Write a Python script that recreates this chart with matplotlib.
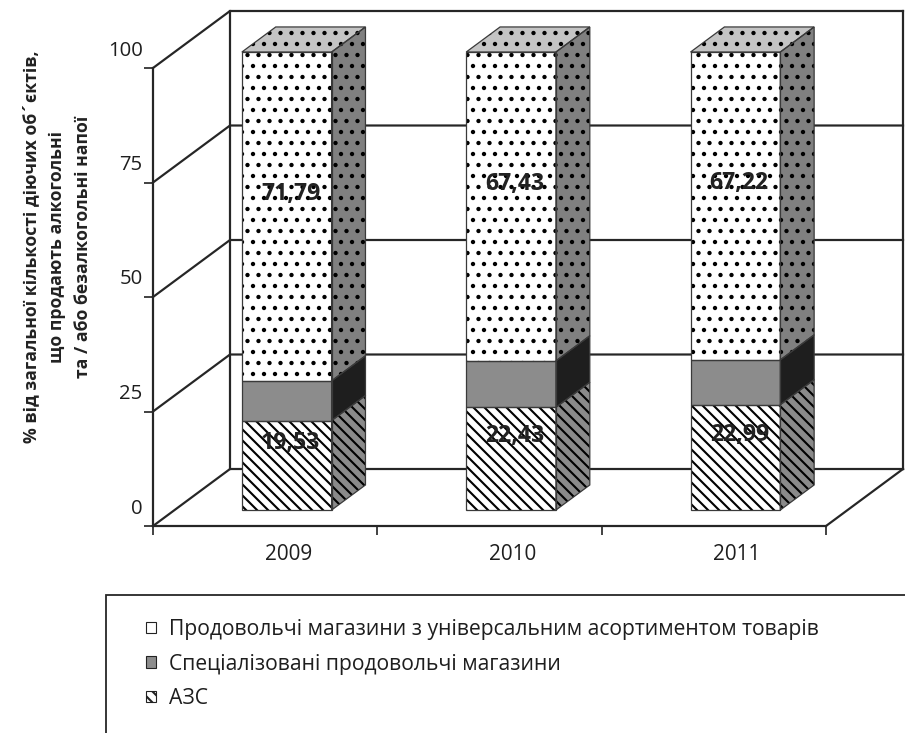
import matplotlib
matplotlib.use('Agg')
import matplotlib.pyplot as plt
from matplotlib.patches import Polygon, Patch, Rectangle
from matplotlib.transforms import ScaledTranslation

DPI = 132
W, H = 905, 733


def pt(px):
    return px * 72 / DPI


plt.rcParams['font.family'] = ['Open Sans', 'DejaVu Sans']
plt.rcParams['hatch.linewidth'] = pt(2.1)

# ---- data ----
years = ['2009', '2010', '2011']
azs = [19.53, 22.43, 22.99]
special = [8.68, 10.14, 9.79]
universal = [71.79, 67.43, 67.22]
series_names = ['Продовольчі магазини з універсальним асортиментом товарів',
                'Спеціалізовані продовольчі магазини',
                'АЗС']
yticks = [0, 25, 50, 75, 100]
ylabel = '% від загальної кількості діючих об´єктів,\nщо продають алкогольні\nта / або безалкогольні напої'

fig = plt.figure(figsize=(W / DPI, H / DPI), dpi=DPI)
ax = fig.add_axes([153 / W, 1 - 526 / H, (826 - 153) / W, (526 - 68) / H])
ax.set_xlim(0, len(years))
ax.set_ylim(0, 100)

DX = 77 / ((826 - 153) / len(years))
DY = 57 / ((526 - 68) / 100)


def P(x, y, d):
    return (x + d * DX, y + d * DY)


line_c = '#262626'
wall_kw = dict(color=line_c, lw=pt(2.2), clip_on=False, zorder=1)
n = len(years)
for v in yticks:
    ax.plot([0, DX, n + DX], [v, v + DY, v + DY], **wall_kw)
ax.plot([DX, DX], [DY, 100 + DY], **wall_kw)
ax.plot([n + DX, n + DX], [DY, 100 + DY], **wall_kw)
ax.plot([n, n + DX], [0, DY], **wall_kw)

for s in ['top', 'right']:
    ax.spines[s].set_visible(False)
for s in ['left', 'bottom']:
    ax.spines[s].set_color(line_c)
    ax.spines[s].set_linewidth(pt(2.2))

ax.set_yticks(yticks)
ax.set_yticklabels([str(v) for v in yticks])
ax.tick_params(axis='y', direction='out', length=pt(9), width=pt(1.7), color=line_c,
               labelsize=pt(20.3), pad=pt(1.4), labelcolor='#1e1e1e')
for lab in ax.get_yticklabels():
    lab.set_transform(lab.get_transform() + ScaledTranslation(0, 20 / DPI, fig.dpi_scale_trans))

ax.set_xticks(range(n + 1))
ax.set_xticklabels([''] * (n + 1))
ax.set_xticks([i + 0.5 for i in range(n)], minor=True)
ax.set_xticklabels(years, minor=True)
ax.tick_params(axis='x', which='major', direction='out', length=pt(9), width=pt(1.7), color=line_c)
ax.tick_params(axis='x', which='minor', length=0, labelsize=pt(20.8), pad=pt(18),
               labelcolor='#1e1e1e')
for lab in ax.get_xticklabels(minor=True):
    lab.set_transform(lab.get_transform() + ScaledTranslation(23 / DPI, 0, fig.dpi_scale_trans))

# ---- bars ----
bar_w = 0.4
d0, d1 = 0.28, 0.72
diag = '\\' * 4
styles = [
    # (front face, side face, top face)
    (('white', diag), ('#8a8a8a', diag), ('#c0c0c0', diag)),
    (('#8c8c8c', None), ('#1e1e1e', None), ('#8c8c8c', None)),
    (('white', '..'), ('#808080', '..'), ('#c4c4c4', '..')),
]
series = [azs, special, universal]


def face(pts, fc, hatch, z):
    ax.add_patch(Polygon(pts, closed=True, facecolor=fc, edgecolor='black', lw=0,
                         hatch=hatch, zorder=z, clip_on=False))
    ax.add_patch(Polygon(pts, closed=True, fill=False, edgecolor='#3a3a3a', lw=pt(1.25),
                         zorder=z + 0.1, clip_on=False, joinstyle='miter'))


for i in range(n):
    c = i + 0.5
    x0, x1 = c - bar_w / 2, c + bar_w / 2
    bottom = 0
    for k, vals in enumerate(series):
        y0, y1 = bottom, bottom + vals[i]
        (ffc, fh), (sfc, sh), (tfc, th) = styles[k]
        face([P(x0, y0, d0), P(x1, y0, d0), P(x1, y1, d0), P(x0, y1, d0)], ffc, fh, 3)
        face([P(x1, y0, d0), P(x1, y0, d1), P(x1, y1, d1), P(x1, y1, d0)], sfc, sh, 3)
        if k == len(series) - 1:
            face([P(x0, y1, d0), P(x1, y1, d0), P(x1, y1, d1), P(x0, y1, d1)], tfc, th, 3)
        if k != 1:
            lx = c + 0.33 * DX
            ly = (y0 + y1) / 2 + 0.68 * DY
            ax.text(lx, ly, f'{vals[i]:.2f}'.replace('.', ','), ha='center', va='center',
                    fontsize=pt(23), fontweight='bold', color='#222222', zorder=10)
        bottom = y1

# ---- y label ----
fig.text(57 / W, 1 - 247 / H, ylabel, rotation=90, ha='center', va='center',
         fontsize=pt(17.6), fontweight='bold', linespacing=1.58, multialignment='center',
         color='#222222')

# ---- legend ----
fig.patches.append(Rectangle((106 / W, -0.05), 1.0, 0.05 + (1 - 595 / H),
                             transform=fig.transFigure, fill=False,
                             edgecolor=line_c, lw=pt(1.8)))
handles = [
    Patch(facecolor='white', edgecolor='#222222', hatch='.', lw=pt(1.1)),
    Patch(facecolor='#8c8c8c', edgecolor='#222222', lw=pt(1.1)),
    Patch(facecolor='white', edgecolor='#222222', hatch=diag, lw=pt(1.1)),
]
fig.legend(handles=handles, labels=series_names, loc='upper left',
           bbox_to_anchor=(146 / W, 1 - 619 / H), frameon=False, fontsize=pt(21.1),
           handlelength=0.48, handleheight=0.48, handletextpad=0.6,
           labelspacing=0.64, borderpad=0, borderaxespad=0, labelcolor='#1e1e1e')

fig.savefig('out.png', dpi=DPI)
